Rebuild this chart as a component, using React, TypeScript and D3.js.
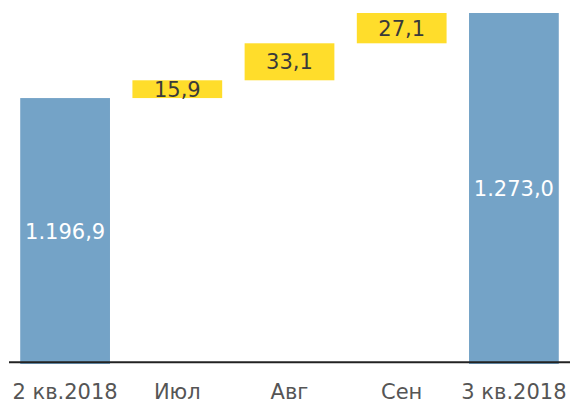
import React from "react";
import * as d3 from "d3";

const categories = ["2 кв.2018", "Июл", "Авг", "Сен", "3 кв.2018"];
const values = [1196.9, 15.9, 33.1, 27.1, 1273.0];
const kinds = ["total", "delta", "delta", "delta", "total"];
const valueLabels = ["1.196,9", "15,9", "33,1", "27,1", "1.273,0"];
const yDomain = [959, 1273];

const W = 570;
const H = 403;
const FONT = "'DejaVu Sans', Verdana, sans-serif";

export default function App() {
  const x = d3.scaleBand<string>().domain(categories).range([9, 570]).paddingInner(0.2).paddingOuter(0.1);
  const y = d3.scaleLinear().domain(yDomain).range([364, 13]);

  let running = 0;
  const bars = categories.map((c, i) => {
    let lo: number, hi: number;
    if (kinds[i] === "total") {
      lo = yDomain[0];
      hi = values[i];
      running = values[i];
    } else {
      lo = running;
      hi = running + values[i];
      running = hi;
    }
    return { c, lo, hi, kind: kinds[i], label: valueLabels[i] };
  });

  return (
    <svg width={W} height={H} style={{ position: "absolute", left: 0, top: 0 }}>
      {bars.map((b) => {
        const x0 = x(b.c)!;
        const yTop = y(b.hi);
        const yBot = y(b.lo);
        const cy = (yTop + yBot) / 2;
        return (
          <g key={b.c}>
            <rect x={x0} y={yTop} width={x.bandwidth()} height={yBot - yTop} fill={b.kind === "total" ? "#74a3c7" : "#ffdd2b"} />
            <text x={x0 + x.bandwidth() / 2} y={cy} dy="0.36em" textAnchor="middle" fontFamily={FONT} fontSize={21} fill={b.kind === "total" ? "#ffffff" : "#3a3a3a"}>
              {b.label}
            </text>
          </g>
        );
      })}
      <line x1={9} x2={570} y1={362.3} y2={362.3} stroke="#222" strokeWidth={2} />
      {categories.map((c) => (
        <text key={c} x={x(c)! + x.bandwidth() / 2} y={399} textAnchor="middle" fontFamily={FONT} fontSize={21} fill="#555">
          {c}
        </text>
      ))}
    </svg>
  );
}
